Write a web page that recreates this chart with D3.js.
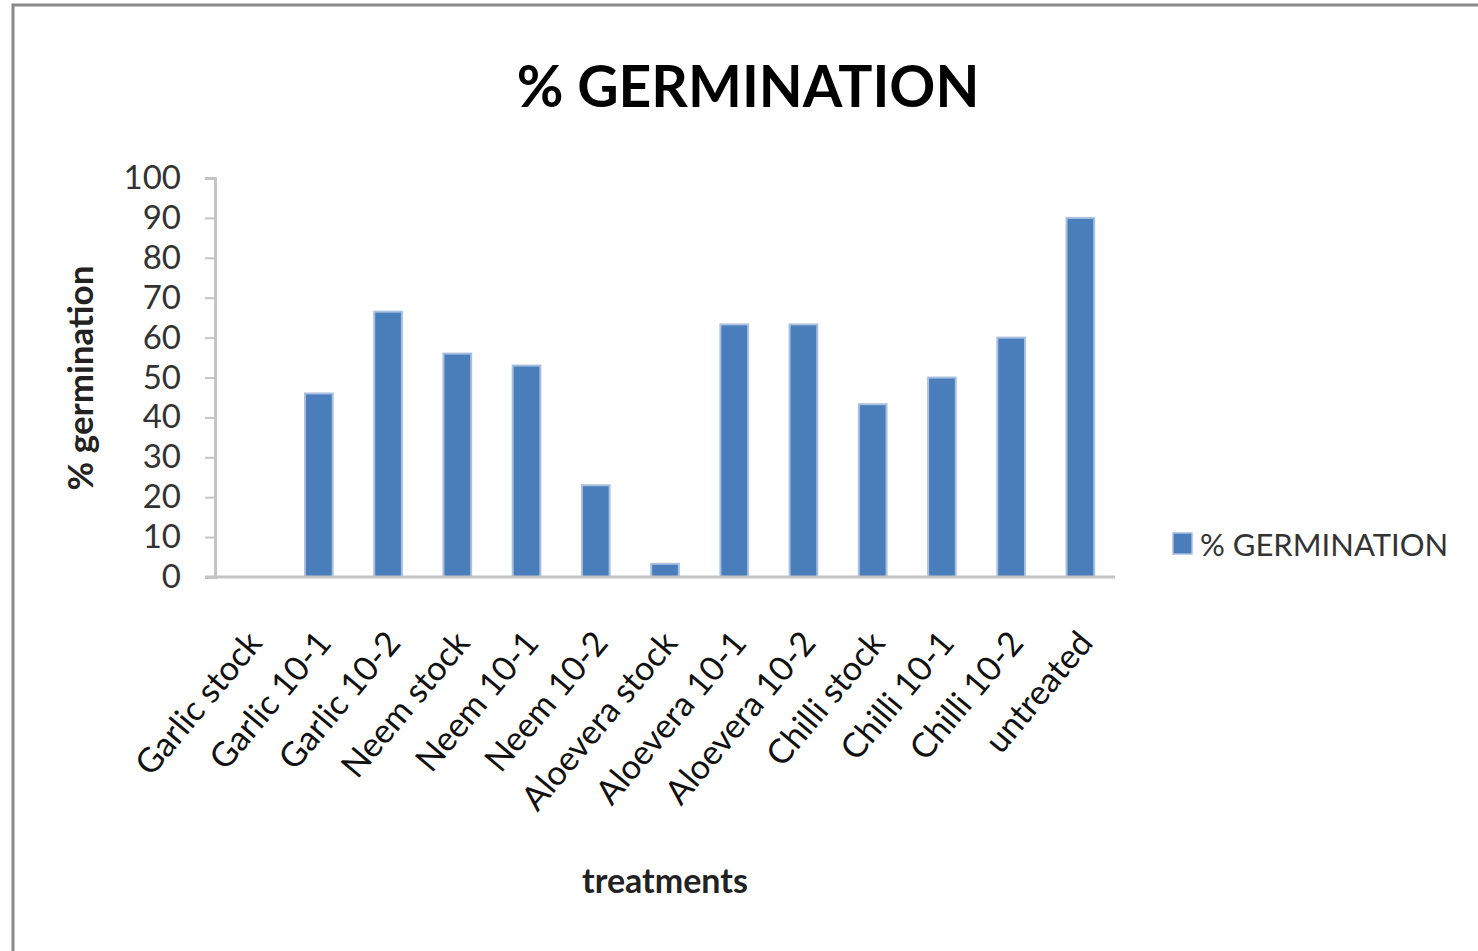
<!DOCTYPE html>
<html lang="en">
<head>
    <meta charset="UTF-8">
    <title>% GERMINATION</title>
    <script src="https://d3js.org/d3.v7.min.js"></script>
    <style>
        body { margin: 0; background: #fff; }
        text { font-family: Lato, "Open Sans", sans-serif; }
    </style>
</head>
<body>
    <svg id="chart" width="1478" height="951"></svg>

    <script>
        // Data
        const treatments = ["Garlic stock", "Garlic 10-1", "Garlic 10-2", "Neem stock", "Neem 10-1", "Neem 10-2",
            "Aloevera stock", "Aloevera 10-1", "Aloevera 10-2", "Chilli stock", "Chilli 10-1", "Chilli 10-2", "untreated"];
        const germination = [0, 46, 66.5, 56, 53, 23, 3.3, 63.3, 63.3, 43.3, 50, 60, 90];
        const yTicks = [0, 10, 20, 30, 40, 50, 60, 70, 80, 90, 100];

        const svg = d3.select("#chart");

        // chart frame
        svg.append("rect")
            .attr("x", 13).attr("y", 5)
            .attr("width", 1478).attr("height", 960)
            .attr("fill", "none")
            .attr("stroke", "#8a8a8a")
            .attr("stroke-width", 3);

        const margin = { left: 215, right: 1115, top: 178, bottom: 577 };

        const x = d3.scaleBand()
            .domain(treatments)
            .range([margin.left, margin.right])
            .paddingInner(0.6)
            .paddingOuter(0.3);

        const y = d3.scaleLinear()
            .domain([0, 100])
            .range([margin.bottom, margin.top]);

        // y axis
        const yAxis = svg.append("g")
            .attr("transform", "translate(" + margin.left + ",0)")
            .call(d3.axisLeft(y).tickValues(yTicks).tickSize(10).tickPadding(24));
        yAxis.select(".domain").attr("stroke", "#c4c4c4").attr("stroke-width", 3);
        yAxis.selectAll(".tick line").attr("stroke", "#c4c4c4").attr("stroke-width", 2);
        yAxis.selectAll(".tick text")
            .attr("font-size", "33px")
            .attr("fill", "#333");

        // bars
        svg.selectAll(".bar")
            .data(treatments)
            .enter()
            .append("rect")
            .attr("class", "bar")
            .attr("x", d => x(d))
            .attr("y", (d, i) => y(germination[i]))
            .attr("width", x.bandwidth())
            .attr("height", (d, i) => y(0) - y(germination[i]))
            .attr("fill", "#4a7ebb")
            .attr("stroke", "#a9c0e0")
            .attr("stroke-width", 2);

        // x axis
        const xAxis = svg.append("g")
            .attr("transform", "translate(0," + margin.bottom + ")")
            .call(d3.axisBottom(x).tickSize(0).tickPadding(0));
        xAxis.select(".domain")
            .attr("d", "M" + (margin.left - 10) + ",0H" + margin.right)
            .attr("stroke", "#c4c4c4").attr("stroke-width", 3);
        xAxis.selectAll(".tick text")
            .attr("font-size", "34px")
            .attr("fill", "#111")
            .attr("text-anchor", "end")
            .attr("dy", 0)
            .attr("transform", "translate(14,67) rotate(-50)");

        // title
        svg.append("text")
            .attr("x", 748).attr("y", 107)
            .attr("text-anchor", "middle")
            .attr("font-size", "57px")
            .attr("font-weight", "bold")
            .attr("fill", "#000")
            .text("% GERMINATION");

        // axis titles
        svg.append("text")
            .attr("transform", "translate(93,378) rotate(-90)")
            .attr("text-anchor", "middle")
            .attr("font-size", "35px")
            .attr("font-weight", "bold")
            .attr("fill", "#222")
            .text("% germination");

        svg.append("text")
            .attr("x", 665).attr("y", 893)
            .attr("text-anchor", "middle")
            .attr("font-size", "34px")
            .attr("font-weight", "bold")
            .attr("fill", "#222")
            .text("treatments");

        // legend
        const legend = svg.append("g").attr("transform", "translate(1173,533)");
        legend.append("rect")
            .attr("width", 19).attr("height", 21)
            .attr("fill", "#4a7ebb")
            .attr("stroke", "#a9c0e0").attr("stroke-width", 1.5);
        legend.append("text")
            .attr("x", 27).attr("y", 23)
            .attr("font-size", "31px")
            .attr("fill", "#333")
            .text("% GERMINATION");
    </script>
</body>
</html>
